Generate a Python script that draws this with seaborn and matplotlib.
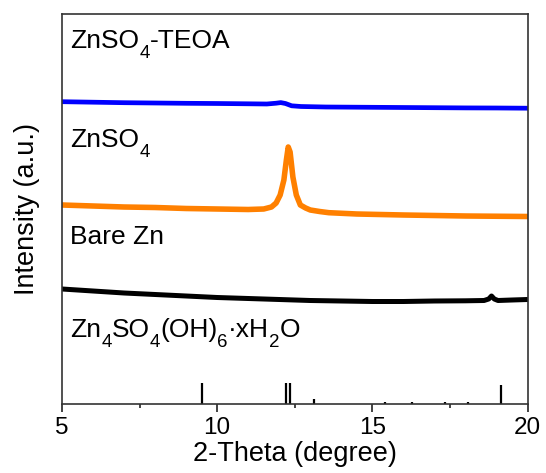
import matplotlib
matplotlib.use("Agg")
import matplotlib.pyplot as plt
import seaborn as sns
import pandas as pd
from matplotlib.ticker import MultipleLocator

# ---- data (intensity in arbitrary units) ----
teoa_x = [5.0, 6.0, 7.0, 8.0, 9.0, 10.0, 11.0, 11.6, 11.9, 12.05, 12.2, 12.4, 12.7, 13.5, 15.0, 16.5, 18.0, 19.0, 20.0]
teoa_y = [302.3, 301.8, 301.3, 301.0, 300.7, 300.5, 300.2, 300.0, 300.8, 301.4, 300.5, 298.2, 297.5, 297.0, 296.7, 296.4, 296.1, 296.0, 295.8]

znso4_x = [5.0, 6.0, 7.0, 8.0, 9.0, 10.0, 11.0, 11.5, 11.75, 11.9, 12.03, 12.15, 12.23, 12.29, 12.35, 12.44, 12.55, 12.68, 12.85, 13.0, 13.3, 13.6, 14.5, 16.0, 18.0, 20.0]
znso4_y = [199, 198, 197, 196.5, 195.5, 195, 194.5, 195, 197, 201, 209, 224, 244, 257, 252, 227, 209, 199, 196, 194, 192.5, 191.3, 190, 189, 188, 187.5]

bare_x = [5, 6, 7, 8, 9, 10, 11, 12, 13, 14, 15, 16, 17, 18, 18.6, 18.75, 18.84, 18.93, 19.05, 19.5, 20]
bare_y = [115, 113, 111, 109.5, 108, 106.5, 105.5, 104.5, 103.5, 103, 102.5, 102.5, 103, 103.2, 103.5, 105, 108, 105, 103.5, 104, 104.5]

ref_x = [9.52, 12.23, 12.35, 13.13, 15.40, 16.27, 17.35, 18.07, 19.13]
ref_h = [21, 21, 21, 5, 2, 2, 2, 2, 19]

# labels as (text, is_subscript) pieces
label_teoa = [("ZnSO", False), ("4", True), ("-TEOA", False)]
label_znso4 = [("ZnSO", False), ("4", True)]
label_bare = [("Bare Zn", False)]
label_ref = [("Zn", False), ("4", True), ("SO", False), ("4", True), ("(OH)", False),
             ("6", True), ("\u00b7xH", False), ("2", True), ("O", False)]
xticks = [5, 10, 15, 20]

# ---- style ----
sns.set_theme(style="ticks")
plt.rcParams["font.family"] = ["Liberation Sans", "DejaVu Sans"]
plt.rcParams["text.color"] = "black"
plt.rcParams["axes.labelcolor"] = "black"
plt.rcParams["xtick.color"] = "black"
plt.rcParams["xtick.labelcolor"] = "black"

fig = plt.figure(figsize=(5.46, 4.73), dpi=100)
ax = fig.add_axes([62 / 546, 69 / 473, 465.5 / 546, 390 / 473])

df_t = pd.DataFrame({"x": teoa_x, "y": teoa_y})
df_z = pd.DataFrame({"x": znso4_x, "y": znso4_y})
df_b = pd.DataFrame({"x": bare_x, "y": bare_y})

sns.lineplot(data=df_t, x="x", y="y", ax=ax, color="#0000ff", linewidth=3.4, sort=False, estimator=None)
sns.lineplot(data=df_z, x="x", y="y", ax=ax, color="#ff8000", linewidth=4.0, sort=False, estimator=None)
sns.lineplot(data=df_b, x="x", y="y", ax=ax, color="#000000", linewidth=3.6, sort=False, estimator=None)

ax.vlines(ref_x, 0, ref_h, colors="black", linewidth=1.6)

ax.set_xlim(5, 20)
ax.set_ylim(0, 390)
ax.set_xticks(xticks)
ax.set_xticklabels([str(t) for t in xticks])
ax.xaxis.set_minor_locator(MultipleLocator(2.5))
ax.tick_params(axis="x", which="major", direction="out", length=6, width=1.2, labelsize=17.5, pad=3, color="#222222", labelcolor="black")
ax.tick_params(axis="x", which="minor", direction="out", length=3, width=1.2, color="#222222")
ax.tick_params(axis="y", left=False, labelleft=False)
for s in ax.spines.values():
    s.set_linewidth(1.2)
    s.set_color("#333333")
    s.set_visible(True)

ax.set_xlabel("2-Theta (degree)", fontsize=19.5, labelpad=2, color="black")
ax.set_ylabel("Intensity (a.u.)", fontsize=19.5, labelpad=16, color="black")


def rich_text(ax, x, y, pieces, size=19, subsize=13.5, drop=7.5):
    first, _ = pieces[0]
    prev = ax.text(x, y, first, fontsize=size, va="baseline", ha="left", color="black")
    for txt, sub in pieces[1:]:
        prev = ax.annotate(txt, xy=(1, y), xycoords=(prev, "data"),
                           xytext=(0, -drop if sub else 0), textcoords="offset points",
                           fontsize=subsize if sub else size, va="baseline", ha="left",
                           color="black", annotation_clip=False)


text_y = [404 - 48, 404 - 147, 404 - 244, 404 - 337]
for pieces, ty in zip([label_teoa, label_znso4, label_bare, label_ref], text_y):
    rich_text(ax, 5.27, ty, pieces)

fig.savefig("out.png", dpi=100)
